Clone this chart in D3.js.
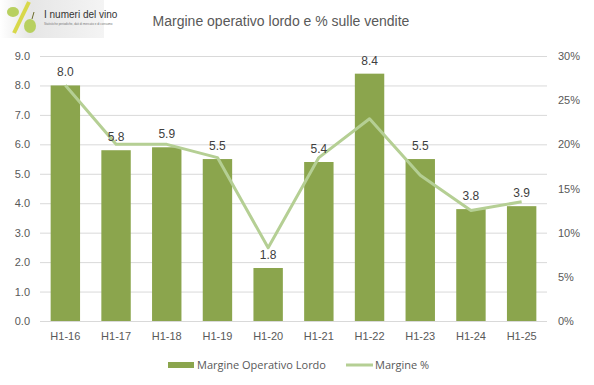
<!DOCTYPE html>
<html><head><meta charset="utf-8">
<script src="https://cdn.jsdelivr.net/npm/d3@7"></script>
<style>body{margin:0;background:#fff}svg{display:block}</style>
</head><body>
<script>
const categories = ["H1-16","H1-17","H1-18","H1-19","H1-20","H1-21","H1-22","H1-23","H1-24","H1-25"];
const mol = [8.0,5.8,5.9,5.5,1.8,5.4,8.4,5.5,3.8,3.9];
const marginPct = [0.267,0.200,0.200,0.185,0.083,0.185,0.229,0.165,0.125,0.135];
const leftTicks = [0,1,2,3,4,5,6,7,8,9];
const rightTicks = [0,0.05,0.10,0.15,0.20,0.25,0.30];
const title = "Margine operativo lordo e % sulle vendite";
const legendLabels = ["Margine Operativo Lordo","Margine %"];

const W=594,H=385;
const svg=d3.select("body").append("svg").attr("width",W).attr("height",H);
const m={l:40,r:47,t:56,b:64};
const x=d3.scaleBand().domain(categories).range([m.l,W-m.r]).paddingInner(0.42).paddingOuter(0.21);
const y=d3.scaleLinear().domain([0,9]).range([H-m.b,m.t]);
const y2=d3.scaleLinear().domain([0,0.30]).range([H-m.b,m.t]);
const font="Liberation Sans, Arial, sans-serif";

// logo
const defs=svg.append("defs");
const g1=defs.append("linearGradient").attr("id","lg").attr("x1",0).attr("x2",1);
g1.append("stop").attr("offset",0).attr("stop-color","#ffffff");
g1.append("stop").attr("offset",0.3).attr("stop-color","#e6e6e6");
g1.append("stop").attr("offset",1).attr("stop-color","#f4f4f4");
const logo=svg.append("g");
logo.append("rect").attr("x",0).attr("y",0).attr("width",104).attr("height",38).attr("fill","url(#lg)");
logo.append("line").attr("x1",29).attr("y1",2).attr("x2",14).attr("y2",33).attr("stroke","#d8d84a").attr("stroke-width",4);
logo.append("ellipse").attr("cx",13).attr("cy",12).attr("rx",6).attr("ry",5).attr("fill","#b8d060");
logo.append("ellipse").attr("cx",30).attr("cy",26).attr("rx",6).attr("ry",7).attr("fill","#b8d060");
logo.append("line").attr("x1",32).attr("y1",19).attr("x2",34).attr("y2",12).attr("stroke","#6b6b2a").attr("stroke-width",1);
logo.append("text").attr("x",44).attr("y",18).attr("font-family","Liberation Sans Narrow, "+font).attr("font-size",10).attr("fill","#333").text("I numeri del vino");
logo.append("text").attr("x",44).attr("y",25).attr("font-family",font).attr("font-size",3).attr("fill","#777").text("Statistiche periodiche, dati di mercato e di consumo");

// title
svg.append("text").attr("x",281).attr("y",26).attr("text-anchor","middle").attr("font-family",font)
  .attr("font-size",14).attr("fill","#595959").text(title);

// gridlines
svg.append("g").selectAll("line").data(leftTicks).join("line")
  .attr("x1",m.l).attr("x2",W-m.r).attr("y1",d=>y(d)+0.5).attr("y2",d=>y(d)+0.5)
  .attr("stroke","#d9d9d9").attr("stroke-width",1);

// left axis
const la=svg.append("g").attr("transform",`translate(${m.l-10},0)`)
  .call(d3.axisLeft(y).tickValues(leftTicks).tickFormat(d3.format(".1f")).tickSize(0).tickPadding(0));
la.select(".domain").remove();
la.selectAll("text").attr("font-family",font).attr("font-size",11).attr("fill","#595959");

// right axis
const ra=svg.append("g").attr("transform",`translate(${W-m.r+11},0)`)
  .call(d3.axisRight(y2).tickValues(rightTicks).tickFormat(d3.format(".0%")).tickSize(0).tickPadding(0));
ra.select(".domain").remove();
ra.selectAll("text").attr("font-family",font).attr("font-size",11).attr("fill","#595959");

// bottom axis
const ba=svg.append("g").attr("transform",`translate(0,${H-m.b})`)
  .call(d3.axisBottom(x).tickSize(0).tickPadding(11));
ba.select(".domain").remove();
ba.selectAll("text").attr("font-family",font).attr("font-size",11).attr("fill","#595959");

// bars
svg.append("g").selectAll("rect").data(mol).join("rect")
  .attr("x",(d,i)=>x(categories[i])).attr("width",x.bandwidth())
  .attr("y",d=>y(d)).attr("height",d=>y(0)-y(d)).attr("fill","#8ba54d");

// line
const line=d3.line().x((d,i)=>x(categories[i])+x.bandwidth()/2).y(d=>y2(d));
svg.append("path").datum(marginPct).attr("d",line).attr("fill","none")
  .attr("stroke","#b5cf94").attr("stroke-width",3).attr("stroke-linejoin","round");

// labels
svg.append("g").selectAll("text").data(mol).join("text")
  .attr("x",(d,i)=>x(categories[i])+x.bandwidth()/2).attr("y",d=>y(d)-9)
  .attr("text-anchor","middle").attr("font-family",font).attr("font-size",12).attr("fill","#404040")
  .text(d=>d3.format(".1f")(d));

// legend
const lg=svg.append("g").attr("font-family","Open Sans, sans-serif").attr("font-size",11).attr("fill","#595959");
lg.append("rect").attr("x",168).attr("y",362).attr("width",26).attr("height",6).attr("fill","#8ba54d");
lg.append("text").attr("x",197).attr("y",369).text(legendLabels[0]);
lg.append("line").attr("x1",346).attr("x2",373).attr("y1",365).attr("y2",365).attr("stroke","#b5cf94").attr("stroke-width",3);
lg.append("text").attr("x",375).attr("y",369).text(legendLabels[1]);
</script>
</body></html>
